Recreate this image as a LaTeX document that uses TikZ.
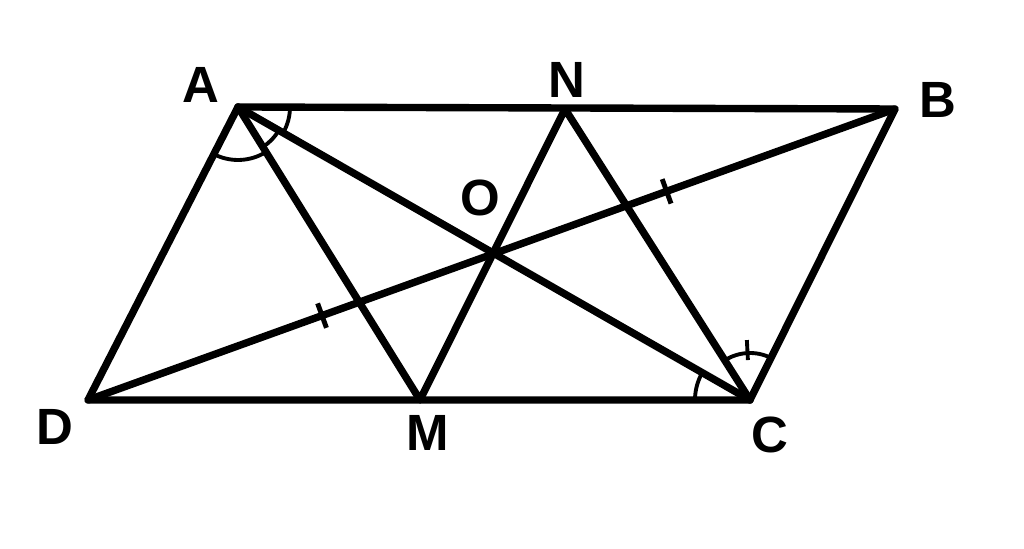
\documentclass[tikz,border=0pt]{standalone}
\usepackage{fontspec}
\setmainfont{Liberation Sans}
\usetikzlibrary{angles,calc,intersections}
\begin{document}
\begin{tikzpicture}[x=1cm,y=1cm,
  seg/.style={line width=2.1pt,line cap=round,line join=round},
  mk/.style={line width=1.1pt},
  lbl/.style={font=\fontsize{14.5}{14.5}\selectfont\bfseries,inner sep=0pt}]
\useasboundingbox (0,0) rectangle (10.24,5.49);
\coordinate (A) at (2.38,4.42);
\coordinate (B) at (8.95,4.40);
\coordinate (C) at (7.50,1.49);
\coordinate (D) at (0.88,1.49);
\coordinate (N) at (5.65,4.40);
\coordinate (M) at (4.20,1.49);
\path[name path=ac] (A) -- (C);
\path[name path=bd] (B) -- (D);
\path[name intersections={of=ac and bd,by=O}];
\draw[seg] (A) -- (B) -- (C) -- (D) -- cycle;
\draw[seg] (A) -- (C);
\draw[seg] (B) -- (D);
\draw[seg] (A) -- (M) -- (N) -- (C);
% angle marks
\pic[draw,mk,angle radius=0.53cm] {angle=D--A--M};
\pic[draw,mk,angle radius=0.47cm] {angle=M--A--C};
\pic[draw,mk,angle radius=0.52cm] {angle=C--A--B};
\pic[draw,mk,angle radius=0.55cm] {angle=A--C--D};
\pic[draw,mk,angle radius=0.47cm] {angle=B--C--N};
\draw[mk] ($(C)+(93:0.40)$) -- ($(C)+(93:0.60)$);
% tick marks on BD
\coordinate (T1) at ($(D)!0.290!(B)$);
\coordinate (T2) at ($(D)!0.717!(B)$);
\draw[mk,line width=1.4pt] ($(T1)!0.13cm!90:(B)$) -- ($(T1)!0.13cm!-90:(B)$);
\draw[mk,line width=1.4pt] ($(T2)!0.13cm!90:(B)$) -- ($(T2)!0.13cm!-90:(B)$);
% labels
\node[lbl] (lA) at (2.01,4.64) {A};
\node[lbl] (lN) at (5.67,4.69) {N};
\node[lbl] (lB) at (9.38,4.49) {B};
\node[lbl] (lO) at (4.80,3.51) {O};
\node[lbl] (lD) at (0.55,1.22) {D};
\node[lbl] (lM) at (4.28,1.16) {M};
\node[lbl] (lC) at (7.70,1.14) {C};
\end{tikzpicture}
\end{document}
